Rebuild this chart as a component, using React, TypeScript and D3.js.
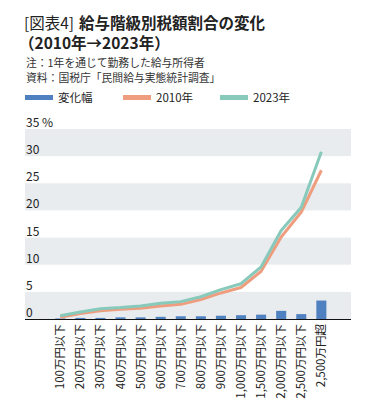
import React from "react";
import * as d3 from "d3";

const categories = [
  "100万円以下", "200万円以下", "300万円以下", "400万円以下", "500万円以下",
  "600万円以下", "700万円以下", "800万円以下", "900万円以下", "1,000万円以下",
  "1,500万円以下", "2,000万円以下", "2,500万円以下", "2,500万円超",
];
const change = [0.1, 0.2, 0.2, 0.3, 0.3, 0.4, 0.5, 0.5, 0.6, 0.7, 0.8, 1.5, 0.9, 3.4];
const y2010 = [0.3, 1.0, 1.5, 1.8, 2.0, 2.4, 2.7, 3.6, 4.8, 5.8, 8.8, 15.1, 19.7, 27.4];
const y2023 = [0.6, 1.3, 1.9, 2.1, 2.4, 2.9, 3.2, 4.1, 5.4, 6.5, 9.6, 16.3, 20.6, 30.8];
const yTicks = [0, 5, 10, 15, 20, 25, 30, 35];

const BLUE = "#4f80c0";
const ORANGE = "#ee9e7f";
const TEAL = "#87c9bb";
const BAND = "#e9ecee";
const FONT = "'Noto Sans CJK JP', 'Noto Sans', sans-serif";

export default function App() {
  const W = 374, H = 419;
  const left = 25, right = 351, bottom = 319, top = 129;
  const y = d3.scaleLinear().domain([0, 35]).range([bottom, top]);
  const x = d3.scaleBand<string>().domain(categories).range([50.2, 331.4]).paddingInner(0.5).paddingOuter(0.25);
  const cx = (c: string) => (x(c) as number) + x.bandwidth() / 2;
  const line = d3.line<number>().x((_, i) => cx(categories[i])).y((d) => y(d)).curve(d3.curveLinear);

  return (
    <svg width={W} height={H} style={{ position: "absolute", left: 0, top: 0, fontFamily: FONT }}>
      <rect width={W} height={H} fill="#fff" />
      <text x={24} y={29} fontSize={15.5} fill="#222" fontWeight={400}>[図表4]</text>
      <text x={79} y={29} fontSize={15.5} fill="#222" fontWeight={700}>給与階級別税額割合の変化</text>
      <text x={19} y={49} fontSize={15.5} fontWeight={700} fill="#222">（2010年→2023年）</text>
      <text x={26} y={67} fontSize={10.8} fill="#333">注：1年を通じて勤務した給与所得者</text>
      <text x={26} y={82} fontSize={10.8} fill="#333">資料：国税庁「民間給与実態統計調査」</text>

      {[
        { c: BLUE, t: "変化幅", x: 25 },
        { c: ORANGE, t: "2010年", x: 123 },
        { c: TEAL, t: "2023年", x: 220 },
      ].map((d) => (
        <g key={d.t}>
          <rect x={d.x} y={95} width={28} height={5} fill={d.c} />
          <text x={d.x + 33} y={102} fontSize={11.5} fill="#222">{d.t}</text>
        </g>
      ))}

      {yTicks.slice(0, -1).map((t, i) =>
        i % 2 === 0 ? (
          <rect key={t} x={left} y={y(t + 5)} width={right - left} height={y(t) - y(t + 5)} fill={BAND} />
        ) : null
      )}
      {yTicks.map((t) => (
        <text key={t} x={26} y={y(t) - 2} fontSize={12} fill="#222">
          {t === 35 ? "35 %" : t}
        </text>
      ))}

      {categories.map((c, i) => (
        <rect key={c} x={x(c)} y={y(change[i])} width={x.bandwidth()} height={y(0) - y(change[i])} fill={BLUE} />
      ))}
      <path d={line(y2010) as string} fill="none" stroke={ORANGE} strokeWidth={3} strokeLinejoin="round" />
      <path d={line(y2023) as string} fill="none" stroke={TEAL} strokeWidth={3} strokeLinejoin="round" />

      <line x1={left} x2={right} y1={bottom + 0.5} y2={bottom + 0.5} stroke="#111" strokeWidth={1} />

      {categories.map((c) => (
        <text
          key={c}
          transform={`translate(${cx(c) + 4},${bottom + 5}) rotate(-90)`}
          textAnchor="end"
          fontSize={11.5}
          fill="#222"
        >
          {c}
        </text>
      ))}
    </svg>
  );
}
